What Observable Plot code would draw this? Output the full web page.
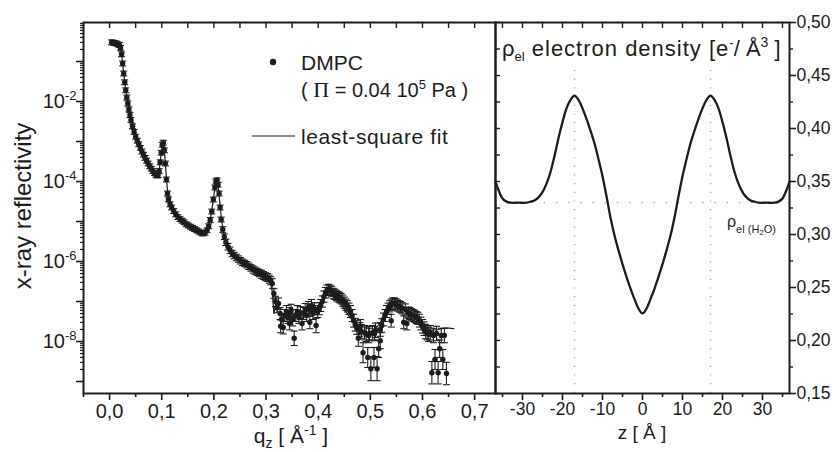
<!DOCTYPE html>
<html><head><meta charset="utf-8">
<script src="https://cdn.jsdelivr.net/npm/d3@7"></script>
<script src="https://cdn.jsdelivr.net/npm/@observablehq/plot@0.6"></script>
<style>
html,body{margin:0;padding:0;background:#fff;}
#wrap{position:relative;width:834px;height:452px;overflow:hidden;}
#wrap svg{position:absolute;top:0;}
</style></head><body><div id="wrap"></div>
<script>
// ---------- reflectivity data (q in 1/Å, log10 R, error in decades) ----------
const qData = [
0.004,0.007,0.010,0.013,0.016,0.019,0.021,0.023,0.025,0.027,
0.029,0.031,0.033,0.035,0.037,0.039,0.041,0.044,0.047,0.050,
0.053,0.056,0.059,0.062,0.065,0.068,0.071,0.074,0.077,0.080,
0.083,0.086,0.089,0.091,0.093,0.095,0.097,0.099,0.101,0.103,
0.105,0.107,0.109,0.111,0.113,0.116,0.119,0.123,0.127,0.131,
0.135,0.139,0.143,0.147,0.151,0.155,0.159,0.163,0.167,0.171,
0.175,0.179,0.183,0.187,0.190,0.193,0.196,0.199,0.202,0.204,
0.206,0.208,0.210,0.212,0.214,0.217,0.220,0.223,0.227,0.231,
0.235,0.239,0.243,0.247,0.251,0.255,0.259,0.263,0.267,0.271,
0.275,0.279,0.283,0.287,0.291,0.295,0.299,0.303,0.306,0.309,
0.312,0.315,0.318,0.321,0.324,0.327,0.330,0.333,0.336,0.339,
0.342,0.345,0.348,0.351,0.354,0.357,0.360,0.363,0.366,0.369,
0.372,0.375,0.378,0.381,0.384,0.387,0.390,0.393,0.396,0.399,
0.402,0.405,0.408,0.411,0.414,0.417,0.420,0.423,0.426,0.429,
0.432,0.435,0.438,0.441,0.444,0.447,0.450,0.453,0.456,0.459,
0.462,0.465,0.468,0.471,0.474,0.477,0.480,0.483,0.486,0.489,
0.492,0.495,0.498,0.501,0.504,0.507,0.510,0.513,0.516,0.519,
0.522,0.525,0.528,0.531,0.534,0.537,0.540,0.543,0.546,0.549,
0.552,0.555,0.558,0.561,0.564,0.567,0.570,0.573,0.576,0.579,
0.582,0.585,0.588,0.591,0.594,0.597,0.600,0.603,0.606,0.609,
0.612,0.615,0.618,0.621,0.624,0.627,0.630,0.633,0.636,0.639,
0.642,0.646,0.540,0.481,0.497,0.508,0.519,0.328,0.345,0.384
];
const logRData = [
-0.52,-0.53,-0.54,-0.55,-0.57,-0.59,-0.66,-0.82,-1.05,-1.30,
-1.52,-1.72,-1.90,-2.05,-2.20,-2.34,-2.46,-2.62,-2.76,-2.88,
-2.98,-3.07,-3.16,-3.25,-3.33,-3.41,-3.48,-3.55,-3.62,-3.68,
-3.74,-3.79,-3.83,-3.85,-3.84,-3.74,-3.52,-3.28,-3.08,-3.03,
-3.22,-3.55,-3.95,-4.30,-4.45,-4.57,-4.65,-4.74,-4.82,-4.89,
-4.94,-4.98,-5.02,-5.07,-5.10,-5.13,-5.16,-5.19,-5.22,-5.25,
-5.28,-5.30,-5.28,-5.22,-5.12,-4.96,-4.75,-4.45,-4.15,-4.00,
-3.97,-4.08,-4.30,-4.65,-4.95,-5.20,-5.38,-5.52,-5.63,-5.72,
-5.80,-5.85,-5.90,-5.94,-5.98,-6.02,-6.05,-6.08,-6.12,-6.16,
-6.20,-6.23,-6.26,-6.29,-6.32,-6.35,-6.38,-6.40,-6.44,-6.48,
-6.55,-6.80,-7.00,-7.15,-7.05,-7.30,-7.45,-7.65,-7.35,-7.25,
-7.40,-7.30,-7.22,-7.45,-7.92,-7.35,-7.25,-7.40,-7.28,-7.55,
-7.30,-7.20,-7.35,-7.15,-7.22,-7.10,-7.30,-7.18,-7.60,-7.25,
-7.18,-7.10,-7.00,-6.88,-6.78,-6.72,-6.70,-6.72,-6.75,-6.80,
-6.82,-6.85,-6.88,-6.90,-6.93,-6.98,-7.03,-7.08,-7.12,-7.18,
-7.25,-7.35,-7.48,-7.58,-7.65,-7.92,-7.70,-7.75,-8.28,-7.78,
-7.82,-8.40,-7.80,-8.68,-7.78,-8.40,-7.72,-8.68,-8.18,-7.98,
-7.60,-7.45,-7.35,-7.25,-7.18,-7.12,-7.08,-7.05,-7.05,-7.07,
-7.10,-7.12,-7.14,-7.17,-7.52,-7.20,-7.55,-7.28,-7.30,-7.33,
-7.35,-7.37,-7.40,-7.42,-7.48,-7.55,-7.62,-7.68,-7.75,-7.78,
-7.82,-7.78,-8.78,-7.85,-8.45,-7.80,-8.78,-8.18,-7.85,-8.45,
-7.85,-8.80,-7.48,-7.62,-7.85,-7.80,-7.70,-7.62,-7.55,-7.52
];
const errData = [
0.06,0.06,0.06,0.06,0.06,0.06,0.06,0.06,0.06,0.06,
0.06,0.06,0.06,0.06,0.06,0.06,0.06,0.06,0.06,0.06,
0.06,0.06,0.06,0.06,0.06,0.06,0.06,0.06,0.06,0.06,
0.06,0.06,0.06,0.06,0.06,0.06,0.06,0.06,0.06,0.06,
0.06,0.06,0.06,0.06,0.06,0.06,0.06,0.06,0.06,0.06,
0.06,0.06,0.06,0.06,0.06,0.06,0.06,0.06,0.06,0.06,
0.06,0.06,0.06,0.06,0.06,0.06,0.06,0.06,0.06,0.06,
0.06,0.06,0.06,0.06,0.06,0.07,0.07,0.08,0.08,0.08,
0.08,0.08,0.08,0.08,0.08,0.08,0.08,0.08,0.08,0.08,
0.09,0.09,0.09,0.09,0.10,0.10,0.10,0.10,0.10,0.10,
0.12,0.12,0.13,0.13,0.14,0.15,0.15,0.16,0.15,0.15,
0.15,0.15,0.15,0.16,0.18,0.15,0.15,0.15,0.15,0.16,
0.15,0.15,0.15,0.15,0.15,0.15,0.15,0.15,0.18,0.15,
0.15,0.15,0.14,0.14,0.13,0.13,0.13,0.13,0.13,0.13,
0.13,0.13,0.13,0.13,0.13,0.14,0.14,0.14,0.14,0.14,
0.15,0.15,0.16,0.16,0.17,0.20,0.17,0.17,0.25,0.18,
0.18,0.25,0.18,0.30,0.18,0.25,0.18,0.30,0.22,0.20,
0.17,0.16,0.15,0.15,0.14,0.14,0.14,0.14,0.14,0.14,
0.14,0.14,0.14,0.14,0.16,0.14,0.16,0.14,0.15,0.15,
0.15,0.15,0.15,0.15,0.16,0.16,0.17,0.17,0.18,0.18,
0.18,0.18,0.28,0.18,0.25,0.18,0.28,0.22,0.18,0.25,
0.18,0.28,0.16,0.17,0.18,0.18,0.17,0.16,0.16,0.16
];
// ---------- least-square fit ----------
const fitQ = [0.004,0.015,0.020,0.022,0.025,0.030,0.035,0.040,0.050,0.060,0.070,0.080,0.088,0.092,0.095,0.098,0.101,0.103,0.106,0.109,0.112,0.116,0.125,0.140,0.160,0.175,0.182,0.188,0.193,0.198,0.202,0.205,0.208,0.211,0.215,0.220,0.230,0.245,0.260,0.275,0.290,0.303,0.308,0.312,0.315,0.318,0.325,0.340,0.360,0.380,0.400,0.410,0.420,0.430,0.445,0.460,0.475,0.490,0.500,0.510,0.520,0.530,0.545,0.560,0.580,0.600,0.615,0.630,0.645,0.660];
const fitLogR = [-0.52,-0.56,-0.60,-0.72,-1.05,-1.62,-2.05,-2.40,-2.88,-3.19,-3.46,-3.68,-3.82,-3.84,-3.74,-3.40,-3.08,-3.04,-3.38,-3.92,-4.35,-4.56,-4.78,-5.00,-5.17,-5.28,-5.29,-5.18,-4.96,-4.55,-4.15,-3.98,-4.08,-4.48,-5.00,-5.38,-5.70,-5.93,-6.06,-6.20,-6.32,-6.42,-6.50,-6.75,-7.30,-7.15,-7.30,-7.40,-7.35,-7.22,-7.15,-6.95,-6.72,-6.88,-7.10,-7.38,-7.62,-7.78,-7.82,-7.70,-7.50,-7.28,-7.08,-7.15,-7.33,-7.58,-7.72,-7.70,-7.66,-7.68];
// ---------- electron density profile ----------
const zData = [-36.75,-36,-35,-34,-33,-31,-29,-28,-27,-26,-25,-24,-23,-22,-21,-20,-19,-18,-17,-16,-15,-14,-13,-12,-11,-10,-9,-8,-7,-6,-5,-4,-3,-2,-1,0,
1,2,3,4,5,6,7,8,9,10,11,12,13,14,15,16,17,18,19,20,21,22,23,24,25,26,27,28,29,31,33,34,35,36,36.75];
const rhoData = [0.350,0.342,0.334,0.331,0.330,0.330,0.330,0.331,0.332,0.335,0.340,0.348,0.359,0.374,0.391,0.406,0.419,0.427,0.431,0.427,0.419,0.409,0.398,0.386,0.371,0.355,0.336,0.316,0.299,0.285,0.272,0.260,0.249,0.239,0.230,0.2255,
0.230,0.239,0.249,0.260,0.272,0.285,0.299,0.316,0.336,0.355,0.371,0.386,0.398,0.409,0.419,0.427,0.431,0.427,0.419,0.406,0.391,0.374,0.359,0.348,0.340,0.335,0.332,0.331,0.330,0.330,0.330,0.331,0.334,0.342,0.350];
const rhoWater = 0.33;
const peakZ = [-17, 17];
// ---------- ticks ----------
const qMajor = [0.0,0.1,0.2,0.3,0.4,0.5,0.6,0.7];
const qMinor = [-0.05,0.05,0.15,0.25,0.35,0.45,0.55,0.65];
const decades = [1e-9,1e-8,1e-7,1e-6,1e-5,1e-4,1e-3,1e-2,1e-1];
const zMajor = [-30,-20,-10,0,10,20,30];
const zMinor = [-35,-25,-15,-5,5,15,25,35];
const rhoMajor = [0.15,0.20,0.25,0.30,0.35,0.40,0.45,0.50];
const rhoMinor = [0.175,0.225,0.275,0.325,0.375,0.425,0.475];

const FONT = '"Liberation Sans", Arial, Helvetica, sans-serif';
const ink = "#1c1c1c";

const pts = qData.map((q,i)=>({q, r:10**logRData[i], lo:10**(logRData[i]-errData[i]), hi:10**(logRData[i]+errData[i])}));
const fit = fitQ.map((q,i)=>({q, r:10**fitLogR[i]}));
const density = zData.map((z,i)=>({z, rho:rhoData[i]}));
const minorLog = [];
decades.concat([1]).forEach(d=>{ for (let k=2;k<=9;k++){ const v=d*k; if (v>10**-9.3 && v<10**-0.025) minorLog.push(v);} });
const none = () => "";
const capSymbol = {draw(ctx, size){ const w=Math.sqrt(size/Math.PI); ctx.moveTo(-w,0); ctx.lineTo(w,0);} };

const left = Plot.plot({
  width: 495, height: 452, marginLeft: 83, marginRight: 0, marginTop: 22, marginBottom: 59,
  style: {fontFamily: FONT, fontSize: "20px", color: ink, background: "transparent", overflow: "visible"},
  x: {domain: [-0.05, 0.74]},
  y: {type: "log", domain: [10**-9.3, 10**-0.025]},
  marks: [
    Plot.axisX(qMajor, {anchor:"bottom", tickSize:7, tickPadding:3, strokeWidth:1.6, fontSize:20, label:null, tickFormat: d=>d.toFixed(1).replace(".", ",")}),
    Plot.axisX(qMinor, {anchor:"bottom", tickSize:4, strokeWidth:1.6, label:null, tickFormat: none}),
    Plot.axisX(qMajor.concat(qMinor), {anchor:"top", tickSize:-5, strokeWidth:1.4, label:null, tickFormat: none}),
    Plot.axisY(decades, {anchor:"left", tickSize:7, tickPadding:0, strokeWidth:1.6, fontSize:20, label:null,
      tickFormat: d => { const e=Math.round(Math.log10(d)); return e%2===0 ? "10^"+e : ""; }}),
    Plot.axisY(minorLog, {anchor:"left", tickSize:3, strokeWidth:1.2, label:null, tickFormat: none}),
    Plot.ruleX(pts, {x:"q", y1:"lo", y2:"hi", stroke: ink, strokeWidth:1.1}),
    Plot.dot(pts, {x:"q", y:"lo", symbol: capSymbol, r:3.5, fill:"none", stroke: ink, strokeWidth:1.1}),
    Plot.dot(pts, {x:"q", y:"hi", symbol: capSymbol, r:3.5, fill:"none", stroke: ink, strokeWidth:1.1}),
    Plot.line(fit, {x:"q", y:"r", stroke: ink, strokeWidth:1.2}),
    Plot.dot(pts, {x:"q", y:"r", r:2.7, fill: ink, stroke:"none"}),
    Plot.frame({stroke: ink, strokeWidth: 2})
  ]
});
left.style.left = "0px";
d3.select(left).selectAll("text").each(function(){
  const t = this.textContent;
  if (t.includes("^")) {
    const [b, e] = t.split("^");
    const s = d3.select(this);
    s.text(b);
    s.append("tspan").attr("dy", "-8").attr("font-size", "13px").text(e);
  }
});
document.getElementById("wrap").appendChild(left);

const right = Plot.plot({
  width: 349, height: 452, marginLeft: 10, marginRight: 45, marginTop: 22, marginBottom: 59,
  style: {fontFamily: FONT, fontSize: "17.5px", color: ink, background: "transparent", overflow: "visible"},
  x: {domain: [-36.75, 36.75]},
  y: {domain: [0.15, 0.50]},
  marks: [
    Plot.ruleX(peakZ, {y1: 0.15, y2: 0.459, stroke:"#999", strokeWidth:1.2, strokeDasharray:"1.2,7.5"}),
    Plot.ruleY([rhoWater], {x1: -36.75, x2: 36.75, stroke:"#999", strokeWidth:1.2, strokeDasharray:"1.2,11"}),
    Plot.axisX(zMajor, {anchor:"bottom", tickSize:7, tickPadding:2, strokeWidth:1.6, fontSize:17.5, label:null, tickFormat: d=>String(d)}),
    Plot.axisX(zMinor, {anchor:"bottom", tickSize:4, strokeWidth:1.6, label:null, tickFormat: none}),
    Plot.axisX(zMajor.concat(zMinor), {anchor:"top", tickSize:-5, strokeWidth:1.4, label:null, tickFormat: none}),
    Plot.axisY(rhoMajor, {anchor:"right", tickSize:6, tickPadding:1, strokeWidth:1.6, fontSize:17.5, label:null, tickFormat: d=>d.toFixed(2).replace(".", ",")}),
    Plot.axisY(rhoMinor, {anchor:"right", tickSize:3, strokeWidth:1.4, label:null, tickFormat: none}),
    Plot.axisY(rhoMajor.concat(rhoMinor), {anchor:"left", tickSize:-5, strokeWidth:1.4, label:null, tickFormat: none}),
    Plot.line(density, {x:"z", y:"rho", curve:"catmull-rom", stroke: ink, strokeWidth:2.3}),
    Plot.frame({stroke: ink, strokeWidth: 2})
  ]
});
right.style.left = "485px";
document.getElementById("wrap").appendChild(right);

// ---------- annotations ----------
const ov = d3.select("#wrap").append("svg")
  .attr("width", 834).attr("height", 452)
  .style("left", "0px").style("top", "0px").style("pointer-events", "none")
  .attr("font-family", FONT).attr("fill", ink);

// legend
ov.append("circle").attr("cx", 273).attr("cy", 62).attr("r", 3.2);
ov.append("text").attr("x", 301).attr("y", 70).attr("font-size", 21).text("DMPC");
const l2 = ov.append("text").attr("x", 301).attr("y", 97).attr("font-size", 20);
l2.append("tspan").text("( ");
l2.append("tspan").attr("font-family", '"Liberation Serif", "Times New Roman", serif').attr("font-size", 22).text("Π");
l2.append("tspan").text(" = 0.04 10");
l2.append("tspan").attr("dy", -8).attr("font-size", 13).text("5");
l2.append("tspan").attr("dy", 8).text(" Pa )");
ov.append("line").attr("x1", 252).attr("x2", 295).attr("y1", 136).attr("y2", 136).attr("stroke", ink).attr("stroke-width", 1.2);
ov.append("text").attr("x", 301).attr("y", 144).attr("font-size", 21).attr("letter-spacing", 0.6).text("least-square fit");

// axis titles
ov.append("text").attr("transform", "translate(31,206) rotate(-90)").attr("text-anchor", "middle").attr("font-size", 24).text("x-ray reflectivity");
const ql = ov.append("text").attr("x", 291).attr("y", 443).attr("text-anchor", "middle").attr("font-size", 21);
ql.append("tspan").text("q");
ql.append("tspan").attr("dy", 5).attr("font-size", 14).text("z");
ql.append("tspan").attr("dy", -5).text(" [ Å");
ql.append("tspan").attr("dy", -8).attr("font-size", 14).text("-1");
ql.append("tspan").attr("dy", 8).text(" ]");
ov.append("text").attr("x", 642).attr("y", 439).attr("text-anchor", "middle").attr("font-size", 19).text("z [ Å ]");

// right-panel title
const tt = ov.append("text").attr("x", 502).attr("y", 56).attr("font-size", 22);
tt.append("tspan").text("ρ");
tt.append("tspan").attr("dy", 5).attr("font-size", 13).text("el");
tt.append("tspan").attr("dy", -5).attr("letter-spacing", 1.0).text(" electron density [e");
tt.append("tspan").attr("dy", -9).attr("font-size", 13).text("-");
tt.append("tspan").attr("dy", 9).text("/ Å");
tt.append("tspan").attr("dy", -9).attr("font-size", 14).text("3");
tt.append("tspan").attr("dy", 9).text(" ]");

// water level label
const wl = ov.append("text").attr("x", 727).attr("y", 227).attr("font-size", 16);
wl.append("tspan").text("ρ");
wl.append("tspan").attr("dy", 6).attr("font-size", 11).text("el (H");
wl.append("tspan").attr("dy", 2).attr("font-size", 8).text("2");
wl.append("tspan").attr("dy", -2).attr("font-size", 11).text("O)");
</script>
</body></html>
